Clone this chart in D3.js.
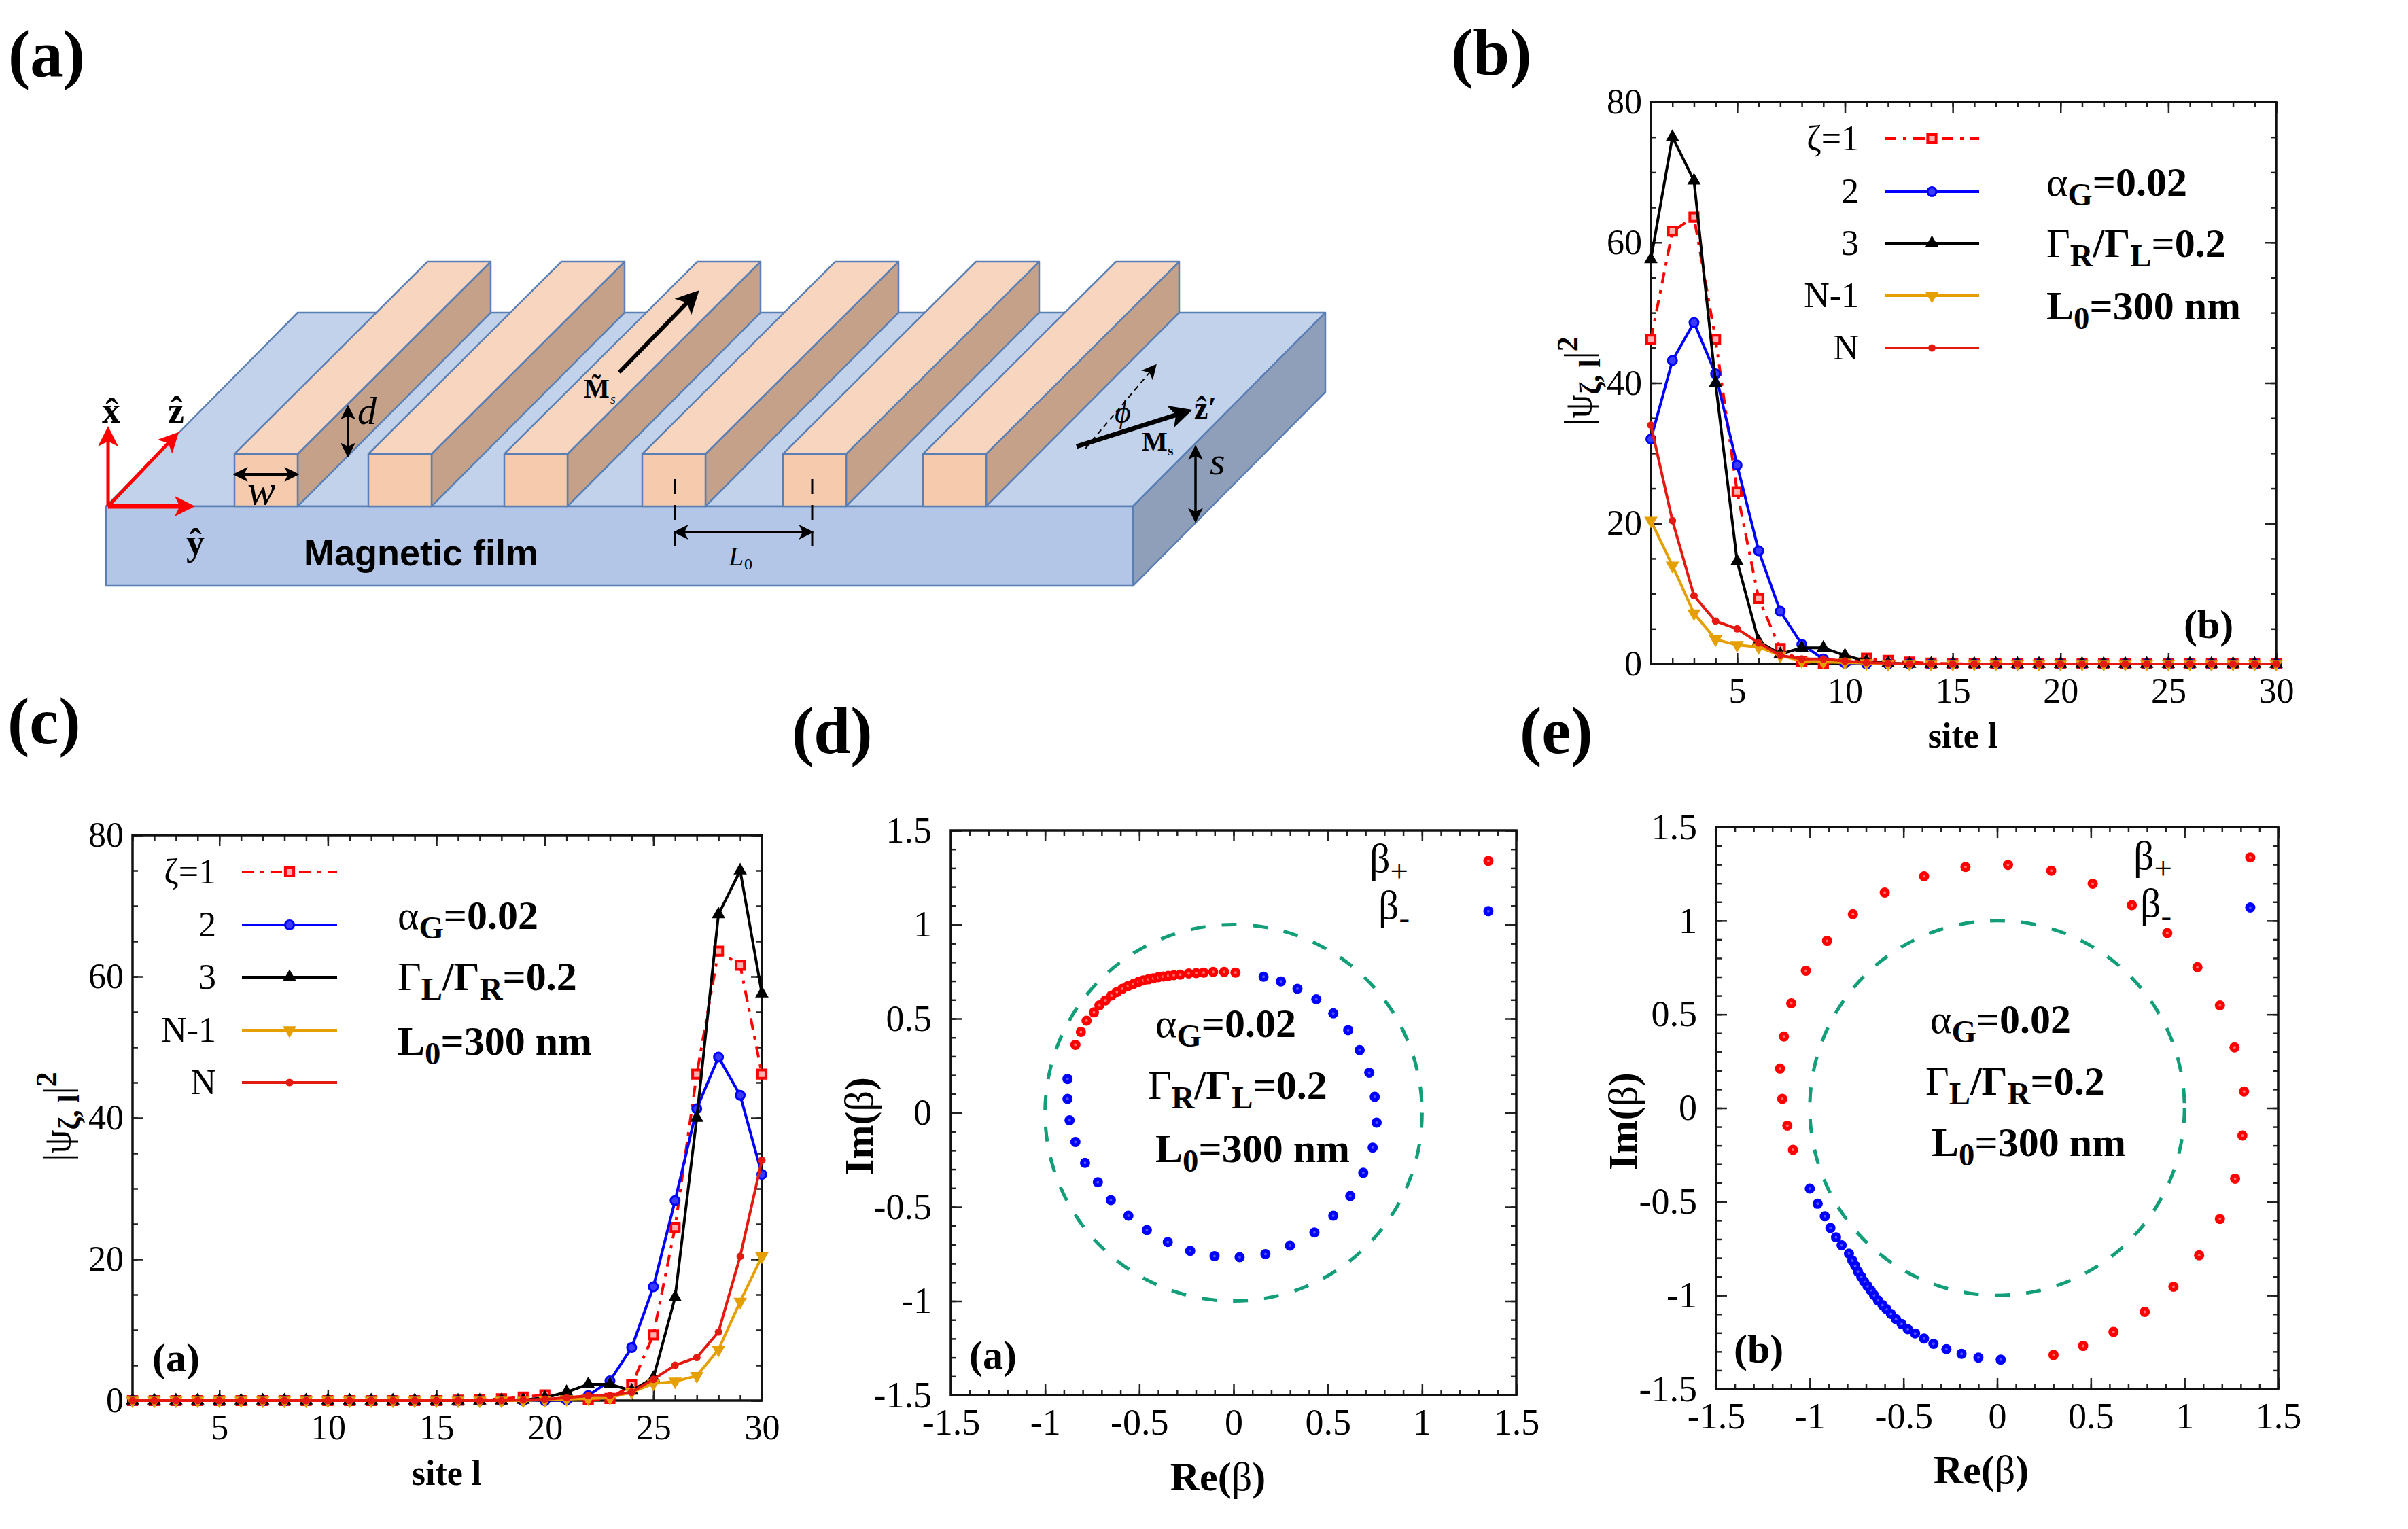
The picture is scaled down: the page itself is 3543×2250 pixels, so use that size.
<!DOCTYPE html>
<html>
<head>
	<meta charset="utf-8">
	<script src="https://cdn.jsdelivr.net/npm/d3@7"></script>
	<style type="text/css">
		body { margin: 0; padding: 0; background: white; }
		svg { display: block; }
		text { font-family: "Liberation Serif", serif; fill: black; }
	</style>
</head>
<body>
	<script type="text/javascript">

		// site profiles, panel (b) reading, panel (c) is the mirror image
		var sites = d3.range(1, 31);
		var zeta1  = [46.2,61.6,63.6,46.2,24.5,9.3,2.2,0.3,0.1,0.5,0.8,0.5,0.25,0.1,0.05,0,0,0,0,0,0,0,0,0,0,0,0,0,0,0];
		var zeta2  = [32,43.2,48.6,41.3,28.3,16.1,7.5,2.8,0.7,0.1,0,0,0,0,0,0,0,0,0,0,0,0,0,0,0,0,0,0,0,0];
		var zeta3  = [57.6,75,68.8,40,14.6,3.2,1.4,2.3,2.3,1.2,0.4,0.1,0,0,0,0,0,0,0,0,0,0,0,0,0,0,0,0,0,0];
		var zetaN1 = [20.4,14,7.2,3.5,2.7,2.4,1.2,0.4,0.3,0.2,0.1,0,0,0,0,0,0,0,0,0,0,0,0,0,0,0,0,0,0,0];
		var zetaN  = [34,20.4,9.7,6.1,5,3,1.2,0.7,0.7,0.4,0.2,0.1,0,0,0,0,0,0,0,0,0,0,0,0,0,0,0,0,0,0];
		var zetaLabels = ["ζ=1","2","3","N-1","N"];

		// eigenvalues, [Re, Im]
		var plusD = [[-.839,.361],[-.81,.43],[-.78,.489],[-.741,.533],[-.712,.57],[-.68,.597],[-.648,.623],[-.619,.642],[-.59,.659],[-.561,.673],[-.532,.684],[-.505,.695],[-.479,.703],[-.452,.709],[-.426,.714],[-.399,.72],[-.373,.724],[-.347,.727],[-.317,.731],[-.283,.734],[-.238,.74],[-.198,.742],[-.159,.745],[-.108,.748],[-.05,.748],[.01,.745]];
		var minusD = [[.159,.723],[.251,.698],[.339,.659],[.439,.603],[.529,.528],[.608,.439],[.669,.333],[.72,.213],[.749,.085],[.759,-.052],[.738,-.185],[.688,-.319],[.619,-.442],[.529,-.547],[.429,-.636],[.299,-.706],[.169,-.751],[.032,-.767],[-.101,-.762],[-.23,-.734],[-.349,-.687],[-.46,-.623],[-.558,-.547],[-.651,-.464],[-.72,-.369],[-.788,-.266],[-.839,-.155],[-.87,-.04],[-.881,.074],[-.881,.18]];
		var plusE = [[.301,-1.318],[.459,-1.27],[.621,-1.195],[.788,-1.088],[.941,-.954],[1.078,-.786],[1.189,-.592],[1.27,-.377],[1.309,-.147],[1.318,.088],[1.267,.324],[1.189,.548],[1.069,.752],[.908,.934],[.719,1.083],[.51,1.197],[.289,1.267],[.058,1.298],[-.169,1.287],[-.39,1.237],[-.6,1.15],[-.77,1.035],[-.908,.892],[-1.021,.733],[-1.099,.559],[-1.138,.382],[-1.159,.211],[-1.147,.049],[-1.12,-.094],[-1.09,-.223]];
		var minusE = [[.019,-1.343],[-.1,-1.332],[-.19,-1.312],[-.271,-1.287],[-.34,-1.259],[-.39,-1.231],[-.438,-1.203],[-.477,-1.181],[-.51,-1.153],[-.54,-1.127],[-.567,-1.099],[-.591,-1.074],[-.612,-1.052],[-.636,-1.027],[-.657,-.999],[-.675,-.973],[-.692,-.951],[-.71,-.926],[-.725,-.901],[-.743,-.873],[-.758,-.842],[-.773,-.814],[-.791,-.777],[-.83,-.733],[-.86,-.69],[-.89,-.64],[-.92,-.578],[-.958,-.511],[-1,-.43]];

		var siteTicks = [5,10,15,20,25,30];
		var weightTicks = [0,20,40,60,80];
		var betaTicks = [-1.5,-1,-0.5,0,0.5,1,1.5];

		var svg = d3.select("body").append("svg").attr("width",3543).attr("height",2250);
		svg.append("rect").attr("width",3543).attr("height",2250).attr("fill","white");

		// arrow heads for the schematic
		var defs = svg.append("defs");
		function arrowHead(id, color, size){
			defs.append("marker").attr("id",id).attr("viewBox","0 0 10 10").attr("refX",8).attr("refY",5)
			.attr("markerUnits","userSpaceOnUse").attr("markerWidth",size).attr("markerHeight",size)
			.attr("orient","auto-start-reverse")
			.append("path").attr("d","M0,0L10,5L0,10L2.5,5Z").attr("fill",color);
		}
		arrowHead("headRed","#ff0000",30);
		arrowHead("headBlack","#000000",34);
		arrowHead("headThin","#000000",22);

		// text with sub and superscript runs, parts are [string, kind, bold]
		function rich(g, x, y, size, parts, anchor){
			var t = g.append("text").attr("x",x).attr("y",y).attr("font-size",size).attr("text-anchor",anchor || "start");
			var shift = 0;
			parts.forEach(function(p){
				var s = t.append("tspan").text(p[0]).attr("font-weight", p[2] ? "bold" : "normal");
				var target = p[1]=="sub" ? size*0.24 : p[1]=="sup" ? -size*0.36 : 0;
				s.attr("dy", target-shift);
				if (p[1]) s.attr("font-size", size*0.78);
				shift = target;
			});
			return t;
		}

		function panelLabel(x, y, label){
			svg.append("text").attr("x",x).attr("y",y).attr("font-size",97).attr("font-weight","bold").text(label);
		}
		panelLabel(12,112,"(a)");
		panelLabel(2135,110,"(b)");
		panelLabel(11,1094,"(c)");
		panelLabel(1165,1108,"(d)");
		panelLabel(2236,1108,"(e)");

		// frame with mirrored major and minor ticks
		function frame(g, x, y, xMajor, xMinor, yMajor, yMinor, o){
			var w = x.range()[1], h = y.range()[0];
			function ticks(axis, vals, len, labelled){
				var a = axis.tickValues(vals).tickSize(len).tickSizeOuter(0);
				if (labelled) a.tickPadding(labelled).tickFormat(function(d){ return String(d); });
				else a.tickFormat("");
				return a;
			}
			var layers = [
				[d3.axisTop(x), 0, 0, xMinor, 8], [d3.axisTop(x), 0, 0, xMajor, 16],
				[d3.axisBottom(x), 0, 0, [], 0]
			];
			// ticks point inward, so the bottom axis uses axisTop and the left one axisRight
			g.append("g").attr("transform","translate(0,"+h+")").call(ticks(d3.axisTop(x),xMinor,8));
			g.append("g").attr("transform","translate(0,"+h+")").call(ticks(d3.axisTop(x),xMajor,16));
			g.append("g").call(ticks(d3.axisBottom(x),xMinor,8));
			g.append("g").call(ticks(d3.axisBottom(x),xMajor,16));
			g.append("g").call(ticks(d3.axisRight(y),yMinor,8));
			g.append("g").call(ticks(d3.axisRight(y),yMajor,16));
			g.append("g").attr("transform","translate("+w+",0)").call(ticks(d3.axisLeft(y),yMinor,8));
			g.append("g").attr("transform","translate("+w+",0)").call(ticks(d3.axisLeft(y),yMajor,16));
			// labels
			var xl = g.append("g").attr("transform","translate(0,"+h+")").call(d3.axisBottom(x).tickValues(xMajor).tickSize(0).tickPadding(o.xPad).tickFormat(function(d){ return String(d); }));
			var yl = g.append("g").call(d3.axisLeft(y).tickValues(yMajor).tickSize(0).tickPadding(o.yPad).tickFormat(function(d){ return String(d); }));
			xl.selectAll("text").attr("font-size",o.font).attr("font-family","Liberation Serif");
			yl.selectAll("text").attr("font-size",o.font).attr("font-family","Liberation Serif");
			xl.select(".domain").remove(); yl.select(".domain").remove();
			g.selectAll(".domain").attr("stroke","none");
			g.selectAll(".tick line").attr("stroke","#222").attr("stroke-width",2.5);
			g.append("rect").attr("width",w).attr("height",h).attr("fill","none").attr("stroke","#111").attr("stroke-width",3.5);
		}

		function siteMarker(g, kind, color, px, py){
			var m = g.append("g").attr("transform","translate("+px+","+py+")");
			if (kind=="square"){
				m.append("path").attr("d",d3.symbol(d3.symbolSquare,150)()).attr("fill","#ffb0b0").attr("stroke",color).attr("stroke-width",4);
			} else if (kind=="circle"){
				m.append("circle").attr("r",6.5).attr("fill","#3a3aff").attr("stroke",color).attr("stroke-width",3);
			} else if (kind=="up"){
				m.append("path").attr("d",d3.symbol(d3.symbolTriangle,170)()).attr("fill",color);
			} else if (kind=="down"){
				m.append("path").attr("d",d3.symbol(d3.symbolTriangle,170)()).attr("fill",color).attr("transform","rotate(180)");
			} else {
				m.append("circle").attr("r",5.5).attr("fill",color);
			}
		}

		var siteStyles = [
			{kind:"square",color:"#ff0000",dash:"17 10 5 10",width:4},
			{kind:"circle",color:"#0000ff",dash:null,width:4},
			{kind:"up",color:"#000000",dash:null,width:4},
			{kind:"down",color:"#e69f00",dash:null,width:4},
			{kind:"dot",color:"#e41a10",dash:null,width:4}
		];

		function sitePanel(p, series){
			var g = svg.append("g").attr("transform","translate("+p.left+","+p.top+")");
			var x = d3.scaleLinear().domain([1,30]).range([0,p.right-p.left]);
			var y = d3.scaleLinear().domain([0,80]).range([p.bottom-p.top,0]);
			frame(g, x, y, siteTicks, sites, weightTicks, d3.range(0,81,5), {xPad:p.xPad,yPad:13,font:52});
			var line = d3.line().x(function(d,i){ return x(sites[i]); }).y(function(d){ return y(d); });
			series.forEach(function(vals,k){
				var st = siteStyles[k];
				g.append("path").attr("d",line(vals)).attr("fill","none").attr("stroke",st.color)
				.attr("stroke-width",st.width).attr("stroke-dasharray",st.dash);
				vals.forEach(function(v,i){ siteMarker(g,st.kind,st.color,x(sites[i]),y(v)); });
			});
			// legend
			zetaLabels.forEach(function(lab,k){
				var st = siteStyles[k], ly = p.legY[k]-p.top;
				g.append("text").attr("x",p.legText-p.left).attr("y",ly+17).attr("font-size",52).attr("text-anchor","end").text(lab);
				g.append("line").attr("x1",p.legX0-p.left).attr("x2",p.legX1-p.left).attr("y1",ly).attr("y2",ly)
				.attr("stroke",st.color).attr("stroke-width",st.width).attr("stroke-dasharray",st.dash);
				siteMarker(g,st.kind,st.color,(p.legX0+p.legX1)/2-p.left,ly);
			});
			// axis titles
			svg.append("text").attr("x",p.titleX).attr("y",p.titleY).attr("font-size",52).attr("font-weight","bold").attr("text-anchor","middle").text("site l");
			var yt = svg.append("g").attr("transform","translate("+p.ylabX+","+p.ylabY+") rotate(-90)");
			rich(yt,0,0,56,[["|ψ",null,false],["ζ, l","sub",true],["|",null,false],["2","sup",true]],"middle");
			svg.append("text").attr("x",p.tagX).attr("y",p.tagY).attr("font-size",60).attr("font-weight","bold").text(p.tag);
		}

		function note(x, y, parts){ rich(svg,x,y,60,parts); }
		function alpha(x,y){ note(x,y,[["α",null,false],["G","sub",true],["=0.02",null,true]]); }
		function gammaRL(x,y){ note(x,y,[["Γ",null,false],["R","sub",true],["/Γ",null,true],["L","sub",true],["=0.2",null,true]]); }
		function gammaLR(x,y){ note(x,y,[["Γ",null,false],["L","sub",true],["/Γ",null,true],["R","sub",true],["=0.2",null,true]]); }
		function length0(x,y){ note(x,y,[["L",null,true],["0","sub",true],["=300 nm",null,true]]); }

		sitePanel({left:2429,right:3349,top:150,bottom:977,xPad:20,
			legY:[204,282,358,435,512],legText:2735,legX0:2773,legX1:2912,
			titleX:2888,titleY:1100,ylabX:2341,ylabY:561,tagX:3213,tagY:939,tag:"(b)"},
			[zeta1,zeta2,zeta3,zetaN1,zetaN]);
		alpha(3011,288); gammaRL(3011,378); length0(3011,470);

		sitePanel({left:195,right:1121,top:1229,bottom:2061,xPad:20,
			legY:[1283,1361,1438,1516,1593],legText:318,legX0:356,legX1:496,
			titleX:657,titleY:2185,ylabX:103,ylabY:1643,tagX:224,tagY:2018,tag:"(a)"},
			[zeta1,zeta2,zeta3,zetaN1,zetaN].map(function(s){ return s.slice().reverse(); }));
		alpha(585,1367); gammaLR(585,1457); length0(585,1552);

		function dot(g, px, py, color, inner){
			g.append("circle").attr("cx",px).attr("cy",py).attr("r",7.5).attr("fill",color);
			g.append("circle").attr("cx",px).attr("cy",py).attr("r",2).attr("fill",inner);
		}

		function betaPanel(p, plus, minus){
			var g = svg.append("g").attr("transform","translate("+p.left+","+p.top+")");
			var x = d3.scaleLinear().domain([-1.5,1.5]).range([0,p.right-p.left]);
			var y = d3.scaleLinear().domain([-1.5,1.5]).range([p.bottom-p.top,0]);
			frame(g, x, y, betaTicks, d3.range(-15,16).map(function(d){ return d/10; }), betaTicks, d3.range(-15,16).map(function(d){ return d/10; }), {xPad:p.xPad,yPad:p.yPad,font:54});
			// unit circle
			g.append("ellipse").attr("cx",x(0)).attr("cy",y(0)).attr("rx",x(1)-x(0)).attr("ry",y(0)-y(1))
			.attr("fill","none").attr("stroke","#119e78").attr("stroke-width",5).attr("stroke-dasharray","22 24");
			minus.forEach(function(d){ dot(g,x(d[0]),y(d[1]),"#0000ff","#5050ff"); });
			plus.forEach(function(d){ dot(g,x(d[0]),y(d[1]),"#ff0000","#ff7070"); });
			// legend points sit at the same spot in data units
			dot(g,x(p.legRe),y(p.legIm[0]),"#ff0000","#ff7070");
			dot(g,x(p.legRe),y(p.legIm[1]),"#0000ff","#5050ff");
			rich(svg,p.plusX,p.plusY,60,[["β",null,false],["+","sub",false]]);
			rich(svg,p.minusX,p.minusY,60,[["β",null,false],["-","sub",false]]);
			rich(svg,p.reX,p.reY,60,[["Re(",null,true],["β",null,false],[")",null,true]],"middle");
			var yt = svg.append("g").attr("transform","translate("+p.imX+","+p.imY+") rotate(-90)");
			rich(yt,0,0,60,[["Im(",null,true],["β",null,false],[")",null,true]],"middle");
			svg.append("text").attr("x",p.tagX).attr("y",p.tagY).attr("font-size",60).attr("font-weight","bold").text(p.tag);
		}

		betaPanel({left:1399,right:2231,top:1222,bottom:2053,xPad:20,yPad:28,legRe:1.352,legIm:[1.338,1.071],
			plusX:2015,plusY:1283,minusX:2028,minusY:1352,reX:1792,reY:2193,imX:1284,imY:1657,tagX:1426,tagY:2014,tag:"(a)"},
			plusD, minusD);
		alpha(1700,1526); gammaRL(1689,1617); length0(1700,1710);

		betaPanel({left:2525,right:3352,top:1217,bottom:2044,xPad:20,yPad:28,legRe:1.351,legIm:[1.338,1.07],
			plusX:3139,plusY:1279,minusX:3149,minusY:1349,reX:2915,reY:2183,imX:2408,imY:1650,tagX:2551,tagY:2005,tag:"(b)"},
			plusE, minusE);
		alpha(2840,1520); gammaLR(2833,1611); length0(2842,1701);

		// schematic of panel (a)
		var stripLeft = [345,542,742,945,1152,1358];
		var stripWidth = 93;
		var a = svg.append("g");
		function poly(pts, fill){
			a.append("polygon").attr("points",pts.map(function(p){ return p.join(","); }).join(" "))
			.attr("fill",fill).attr("stroke","#5a7fb5").attr("stroke-width",2.5).attr("stroke-linejoin","round");
		}
		poly([[156,745],[438,460],[1950,460],[1667,745]],"#c1d2ea");
		poly([[1667,745],[1950,460],[1950,577],[1667,862]],"#8f9fba");
		poly([[156,745],[1667,745],[1667,862],[156,862]],"#b3c6e7");
		stripLeft.forEach(function(l){
			var r = l+stripWidth;
			poly([[r,668],[r+284,385],[r+284,460],[r,745]],"#c4a188");
			poly([[l,668],[l+284,385],[r+284,385],[r,668]],"#f8d5bf");
			poly([[l,668],[r,668],[r,745],[l,745]],"#f6cbad");
		});

		function arrow(x1,y1,x2,y2,width,head,both,dash){
			var l = a.append("line").attr("x1",x1).attr("y1",y1).attr("x2",x2).attr("y2",y2)
			.attr("stroke",head=="headRed" ? "#ff0000" : "#000").attr("stroke-width",width)
			.attr("marker-end","url(#"+head+")");
			if (both) l.attr("marker-start","url(#"+head+")");
			if (dash) l.attr("stroke-dasharray",dash);
		}
		arrow(159,745,159,633,5,"headRed");
		arrow(159,745,259,640,5,"headRed");
		arrow(159,745,281,745,7,"headRed");
		arrow(911,548,1024,432,6,"headBlack");
		arrow(1584,657,1748,605,7,"headBlack");
		arrow(1597,660,1699,539,2,"headThin",false,"8 6");
		arrow(512,600,512,669,3.5,"headThin",true);
		arrow(347,698,436,698,4,"headThin",true);
		arrow(1759,659,1759,765,3.5,"headThin",true);
		arrow(995,783,1193,783,4,"headThin",true);
		[993,1195].forEach(function(vx){
			a.append("line").attr("x1",vx).attr("x2",vx).attr("y1",705).attr("y2",810)
			.attr("stroke","#000").attr("stroke-width",3).attr("stroke-dasharray","22 16");
		});

		function serif(x,y,size,str,bold,italic){
			var t = a.append("text").attr("x",x).attr("y",y).attr("font-size",size).text(str);
			if (bold) t.attr("font-weight","bold");
			if (italic) t.attr("font-style","italic");
			return t;
		}
		serif(150,622,54,"x\u0302",true);
		serif(247,622,54,"z\u0302",true);
		serif(274,816,54,"y\u0302",true);
		serif(1757,616,46,"z\u0302\u2032",true);
		serif(526,624,56,"d",false,true);
		serif(364,742,62,"w",false,true);
		serif(1780,698,58,"s",false,true);
		serif(1640,622,46,"\u03d5",false,true);
		serif(1072,832,40,"L",false,true);
		serif(1095,838,24,"0",false,false);
		serif(859,585,40,"M\u0303",true);
		serif(898,594,20,"s",false,true);
		serif(1680,663,40,"M",true);
		serif(1718,670,22,"s",true);
		a.append("text").attr("x",447).attr("y",832).attr("font-size",54).attr("font-weight","bold")
		.style("font-family","'Liberation Sans', sans-serif").text("Magnetic film");

	</script>
</body>
</html>
